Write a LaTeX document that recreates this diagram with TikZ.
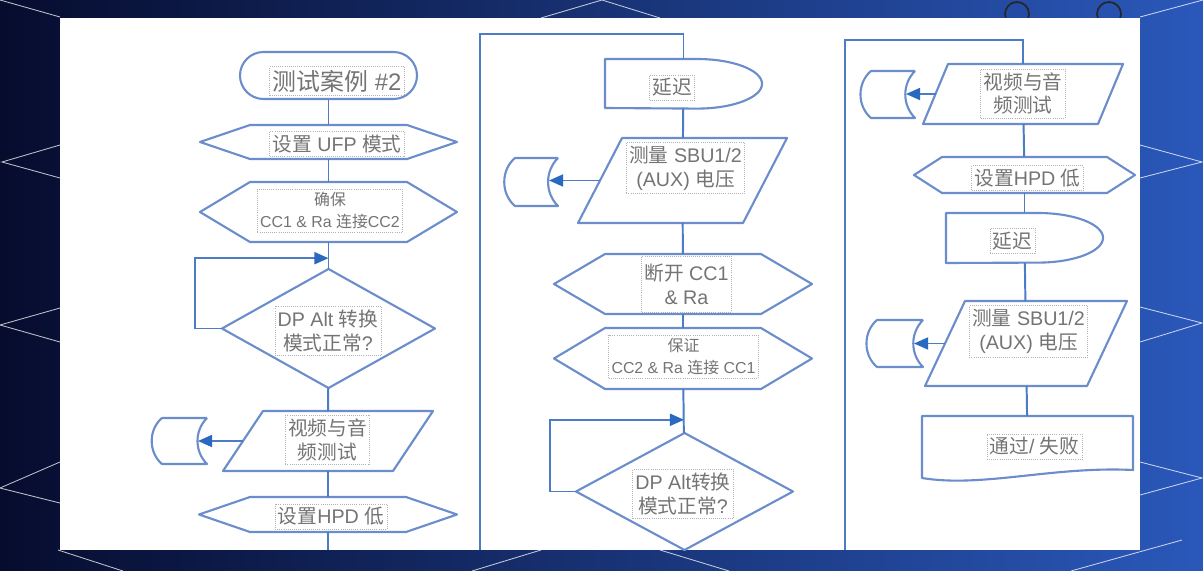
\documentclass[tikz,border=0pt]{standalone}
\usepackage{fontspec}
\setmainfont{Liberation Sans}
\newfontfamily\cjk{Noto Sans CJK SC}
\usetikzlibrary{shapes.misc, positioning, arrows.meta, calc}

\newdimen\px \px=0.025cm
\newcommand{\zh}[1]{{\cjk #1}}

\definecolor{shapeblue}{HTML}{6B8DCB}
\definecolor{lineblue}{HTML}{4C7CC6}
\definecolor{tipblue}{HTML}{2A69C0}
\definecolor{textgray}{HTML}{747474}
\definecolor{slidedark}{HTML}{060C2E}
\definecolor{slidemid}{HTML}{0A167A}
\definecolor{slidelight}{HTML}{2A58BA}

\begin{document}
\begin{tikzpicture}[
    x=\px, y=-\px,
    box/.style 2 args={
        rectangle,
        draw=none,
        inner sep=0pt,
        outer sep=0pt,
        minimum width=#1*\px,
        minimum height=#2*\px
    },
    terminal/.style 2 args={
        rounded rectangle,
        draw=shapeblue,
        line width=1.5pt,
        inner sep=0pt,
        minimum width=#1*\px,
        minimum height=#2*\px
    },
    outline/.style={draw=shapeblue, line width=1.5pt, line join=round},
    flow/.style={draw=lineblue, line width=1.4pt},
    arrow/.style={
        flow,
        -{Triangle[length=10pt, width=8.5pt, color=tipblue]}
    },
    tframe/.style={
        draw=gray!60,
        densely dotted,
        line width=0.5pt,
        text=textgray,
        align=center,
        inner xsep=2pt,
        inner ysep=2.5pt,
        font=\fontsize{14}{17}\selectfont
    },
    bigtext/.style={font=\fontsize{17}{20}\selectfont},
    smalltext/.style={font=\fontsize{11.3}{15}\selectfont},
    deco/.style={draw=white, line width=0.6pt, opacity=0.75}
]

    % -- Slide background --
    \useasboundingbox (0,0) rectangle (1203,571);
    \shade[left color=slidedark, middle color=slidemid, right color=slidelight]
        (0,0) rectangle (1203,571);
    \draw[deco] (0,0) -- (60,17);
    \draw[deco] (60,145) -- (2,162) -- (60,178);
    \draw[deco] (60,308) -- (0,325) -- (60,342);
    \draw[deco] (60,462) -- (0,488) -- (60,503);
    \draw[deco] (1140,17) -- (1203,0);
    \draw[deco] (1140,145) -- (1202,162) -- (1140,178);
    \draw[deco] (1140,307) -- (1202,323) -- (1140,342);
    \draw[deco] (1140,462) -- (1202,478) -- (1140,495);
    \draw[deco] (541,18) -- (602,0) -- (660,18);
    \draw[deco] (58,550) -- (123,571);
    \draw[deco] (472,571) -- (541,550);
    \draw[deco] (660,550) -- (729,571);
    \draw[deco] (1071,571) -- (1182,540);
    \draw[black!85, line width=1.2pt] (1017,14) circle[radius=3mm];
    \draw[black!85, line width=1.2pt] (1109,14) circle[radius=3mm];
    \fill[white] (60,18) rectangle (1140,550);

    % -- Column 1 --
    \node[terminal={177}{47}] (start) at (328.5,75.5) {};
    \node[box={257}{34}] (ufp) at (328.5,142) {};
    \node[box={257}{60}] (ensure) at (328.5,212) {};
    \node[box={213}{119}] (dp1) at (328.5,328.5) {};
    \node[box={210}{60}] (av1) at (328,441) {};
    \node[box={55}{46}] (store1) at (179.5,441) {};
    \node[box={258}{35}] (hpd1) at (328,514.5) {};
    \coordinate (out1) at (328,550);

    % -- Column 2 --
    \coordinate (in2) at (480,550);
    \coordinate (top2) at (683.5,34);
    \node[box={157}{49}] (delay1) at (683.5,83.5) {};
    \node[box={209}{85}] (meas1) at (682.5,180.5) {};
    \node[box={53}{48}] (store2) at (531.5,182) {};
    \node[box={258}{60}] (discon) at (683,284) {};
    \node[box={258}{61}] (keep) at (683,358.5) {};
    \node[box={217}{117}] (dp2) at (684.5,491.5) {};

    % -- Column 3 --
    \coordinate (in3) at (845,550);
    \coordinate (top3) at (1023,40);
    \node[box={200}{60}] (av2) at (1023,94) {};
    \node[box={54}{47}] (store3) at (888,94.5) {};
    \node[box={221}{36}] (hpd2) at (1024.5,175) {};
    \node[box={157}{50}] (delay2) at (1024.5,238) {};
    \node[box={202}{85}] (meas2) at (1026,343.5) {};
    \node[box={56}{47}] (store4) at (895,343.5) {};
    \node[box={211}{58}] (result) at (1027.5,445) {};

    % Shape outlines
    \foreach \n/\c in {ufp/50, ensure/50, hpd1/51, discon/51, keep/51, hpd2/28}
        \draw[outline] (\n.west) -- ([xshift=\c*\px]\n.north west)
            -- ([xshift=-\c*\px]\n.north east) -- (\n.east)
            -- ([xshift=-\c*\px]\n.south east) -- ([xshift=\c*\px]\n.south west) -- cycle;
    \foreach \n in {dp1, dp2}
        \draw[outline] (\n.north) -- (\n.east) -- (\n.south) -- (\n.west) -- cycle;
    \foreach \n in {delay1, delay2}
        \draw[outline] (\n.south west) -- (\n.north west) -- ([xshift=-65*\px]\n.north east)
            arc[start angle=90, end angle=-90, x radius=16.25mm, y radius=6.2mm] -- cycle;
    \foreach \n in {store1, store2, store3, store4}
        \draw[outline] (\n.north east) -- ([xshift=10*\px]\n.north west)
            to[bend right=50] ([xshift=10*\px]\n.south west) -- (\n.south east)
            to[bend left=45] (\n.north east);
    \draw[outline] (result.north west) -- (result.north east) -- ($(result.south east)+(0,-4)$)
        .. controls ($(result.south east)+(-80,-8)$) and ($(result.south west)+(60,14)$)
        .. ($(result.south west)+(0,4)$) -- cycle;
    \foreach \n/\s/\st in {av1/40/store1, meas1/44/store2, av2/25/store3, meas2/40/store4} {
        \draw[outline] ([xshift=\s*\px]\n.north west) -- (\n.north east)
            -- ([xshift=-\s*\px]\n.south east) -- (\n.south west) -- cycle;
        \draw[arrow] ([xshift=\s/2*\px]\n.west) -- ([xshift=-9*\px]\st.east |- \n.west);
    }

    % Connectors
    \foreach \a/\b in {start/ufp, ufp/ensure, ensure/dp1, dp1/av1, av1/hpd1, hpd1/out1,
                       delay1/meas1, meas1/discon, discon/keep, keep/dp2,
                       av2/hpd2, hpd2/delay2, delay2/meas2, meas2/result}
        \draw[flow] (\a) -- (\b);
    \draw[flow] (in2) |- (top2) -- (delay1);
    \draw[flow] (in3) |- (top3) -- (av2);
    \draw[arrow] (dp1.west) -- ++(-27,0) |- ($(ensure.south)!0.6!(dp1.north)$);
    \draw[arrow] (dp2.west) -- ++(-26,0) |- ($(keep.south)!0.7!(dp2.north)$);

    % Texts
    \node[tframe, bigtext] (start_txt) at (337,81) {\zh{测试案例} \#2};
    \node[tframe] (ufp_txt) at (337,144) {\zh{设置} UFP \zh{模式}};
    \node[tframe, smalltext] (ensure_txt) at (330,210.5) {\zh{确保}\\CC1 \& Ra \zh{连接}CC2};
    \node[tframe] (dp1_txt) at (328,331) {DP Alt \zh{转换}\\\zh{模式正常}?};
    \node[tframe] (av1_txt) at (327.5,440) {\zh{视频与音}\\\zh{频测试}};
    \node[tframe] (hpd1_txt) at (331,516.5) {\zh{设置}HPD \zh{低}};
    \node[tframe] (delay1_txt) at (672,87.5) {\zh{延迟}};
    \node[tframe] (meas1_txt) at (685.5,168) {\zh{测量} SBU1/2\\(AUX) \zh{电压}};
    \node[tframe, minimum height=56*\px] (discon_txt) at (686.5,284) {\zh{断开} CC1\\\& Ra};
    \node[tframe, smalltext] (keep_txt) at (683.5,356.5) {\zh{保证}\\CC2 \& Ra \zh{连接} CC1};
    \node[tframe] (dp2_txt) at (683,494) {DP Alt\zh{转换}\\\zh{模式正常}?};
    \node[tframe] (av2_txt) at (1023,93.5) {\zh{视频与音}\\\zh{频测试}};
    \node[tframe] (hpd2_txt) at (1027.5,178) {\zh{设置}HPD \zh{低}};
    \node[tframe] (delay2_txt) at (1012.5,241) {\zh{延迟}};
    \node[tframe] (meas2_txt) at (1028.5,331.5) {\zh{测量} SBU1/2\\(AUX) \zh{电压}};
    \node[tframe] (result_txt) at (1034.5,446.5) {\zh{通过}/ \zh{失败}};

\end{tikzpicture}
\end{document}
